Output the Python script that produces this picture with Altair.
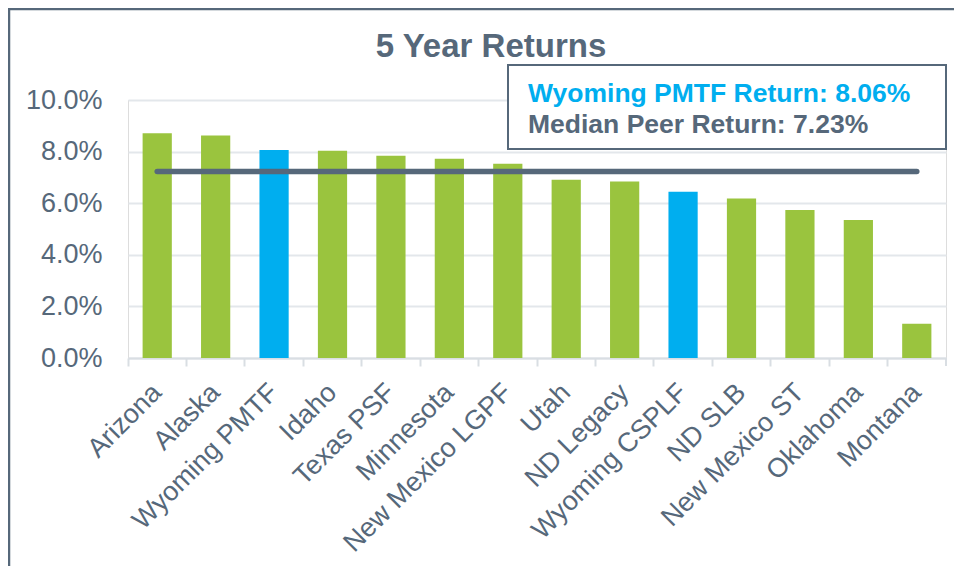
import altair as alt
import pandas as pd

categories = ["Arizona", "Alaska", "Wyoming PMTF", "Idaho", "Texas PSF", "Minnesota",
              "New Mexico LGPF", "Utah", "ND Legacy", "Wyoming CSPLF", "ND SLB",
              "New Mexico ST", "Oklahoma", "Montana"]
returns_pct = [8.71, 8.62, 8.06, 8.03, 7.84, 7.72, 7.53, 6.91, 6.84, 6.44, 6.18, 5.74, 5.35, 1.33]
highlight = ["Wyoming PMTF", "Wyoming CSPLF"]
median_pct = 7.23
pmtf_pct = 8.06
y_ticks = [0, 2, 4, 6, 8, 10]
title_text = "5 Year Returns"
line1 = f"Wyoming PMTF Return: {pmtf_pct:.2f}%"
line2 = f"Median Peer Return: {median_pct:.2f}%"

GREEN = "#9AC43E"
BLUE = "#00AEEF"
SLATE = "#56687A"
GRID = "#E3E7EB"
FONT = "Liberation Sans"

W, H = 818, 258

df = pd.DataFrame({
    "fund": categories,
    "ret": [v / 100 for v in returns_pct],
    "grp": ["hl" if c in highlight else "peer" for c in categories],
})
med_df = pd.DataFrame({"fund": [categories[0], categories[-1]],
                       "ret": [median_pct / 100] * 2})

xenc = alt.X("fund:N", sort=categories, title=None,
             scale=alt.Scale(paddingInner=0, paddingOuter=0),
             axis=alt.Axis(bandPosition=0,
                           labelAngle=-45, labelAlign="right", labelBaseline="middle",
                           labelFontSize=27, labelFont=FONT, labelColor=SLATE, labelLimit=0,
                           labelPadding=22, tickColor="#D9DEE3", tickWidth=2, tickSize=8,
                           domainColor="#D9DEE3", domainWidth=2, grid=False))
yenc = alt.Y("ret:Q", title=None,
             scale=alt.Scale(domain=[0, 0.10], nice=False),
             axis=alt.Axis(values=[v / 100 for v in y_ticks], format=".1%",
                           labelFontSize=27, labelFont=FONT, labelColor=SLATE,
                           labelPadding=26, ticks=False, domain=False,
                           gridColor=GRID, gridWidth=2))

one = alt.Data(values=[{"a": 1}])

frame = alt.Chart(one).mark_rect(fill=None, stroke=SLATE, strokeWidth=2.5).encode(
    x=alt.value(-119), x2=alt.value(W + 40), y=alt.value(-91), y2=alt.value(H + 400))

bars = alt.Chart(df).mark_bar(width={"band": 0.5}).encode(
    x=xenc, y=yenc,
    color=alt.Color("grp:N", scale=alt.Scale(domain=["peer", "hl"], range=[GREEN, BLUE]),
                    legend=None))

median_line = alt.Chart(med_df).mark_line(color=SLATE, strokeWidth=5.5, strokeCap="round").encode(
    x=alt.X("fund:N", sort=categories), y="ret:Q")

end_tick = alt.Chart(one).mark_rule(color="#D9DEE3", strokeWidth=2).encode(
    x=alt.value(W), y=alt.value(H), y2=alt.value(H + 8))

box = alt.Chart(one).mark_rect(fill="white", stroke=SLATE, strokeWidth=2).encode(
    x=alt.value(380), x2=alt.value(W), y=alt.value(-35), y2=alt.value(49))

t1 = alt.Chart(one).mark_text(text=line1, font=FONT, fontSize=26.5, fontWeight="bold",
                              color=BLUE, align="left", baseline="alphabetic").encode(
    x=alt.value(400), y=alt.value(1.5))
t2 = alt.Chart(one).mark_text(text=line2, font=FONT, fontSize=26.5, fontWeight="bold",
                              color=SLATE, align="left", baseline="alphabetic").encode(
    x=alt.value(400), y=alt.value(32.5))

title = alt.Chart(one).mark_text(text=title_text, font=FONT, fontSize=33, fontWeight="bold",
                                 color=SLATE, align="center", baseline="alphabetic").encode(
    x=alt.value(363), y=alt.value(-43.5))

chart = alt.layer(frame, bars, median_line, end_tick, box, t1, t2, title).properties(
    width=W, height=H,
    autosize=alt.AutoSizeParams(type="none"),
    padding={"left": 120, "top": 92, "right": 8, "bottom": 208},
).configure_view(stroke=None).configure(background="white")

chart.save("out.html", embed_options={"renderer": "svg", "actions": False})
